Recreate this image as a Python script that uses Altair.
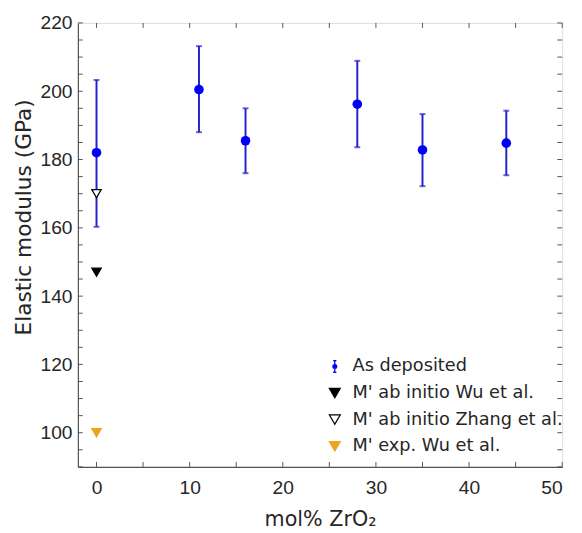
import altair as alt
import pandas as pd

# As-deposited measurements
x_dep = [0, 11, 16, 28, 35, 44]
y_dep = [182.0, 200.5, 185.5, 196.2, 182.8, 184.8]
y_lo = [160.3, 188.0, 176.0, 183.6, 172.2, 175.4]
y_hi = [203.3, 213.2, 195.0, 208.9, 193.3, 194.3]

# Reference values (M' phase)
ref_series = ["M' ab initio Wu et al.", "M' ab initio Zhang et al.", "M' exp. Wu et al."]
ref_x = [0, 0, 0]
ref_y = [147.0, 170.0, 100.0]

legend_order = ["As deposited"] + ref_series
x_ticks = list(range(0, 51, 5))
y_ticks = list(range(90, 221, 5))

BLUE = "#0000f5"
BAR_BLUE = "#2222cc"
ORANGE = "#EDA31E"
AXIS = "#555555"
TEXT = "#262626"
FONT = "Liberation Sans"
TFONT = "DejaVu Sans"
W, H, TL = 492, 451, 5

dep = pd.DataFrame({"x": x_dep, "y": y_dep, "lo": y_lo, "hi": y_hi})
ref = pd.DataFrame({"x": ref_x, "y": ref_y, "series": ref_series})
xt = pd.DataFrame({"t": x_ticks})
yt = pd.DataFrame({"t": y_ticks})

xs = alt.Scale(domain=[-2, 50], nice=False, zero=False)
ys = alt.Scale(domain=[90, 220], nice=False, zero=False)

common_axis = dict(
    grid=False, ticks=False, domainColor=AXIS, domainWidth=1.2,
    labelFont=FONT, labelFontSize=19.5, labelColor=TEXT,
    titleFont=TFONT, titleColor=TEXT, titleFontWeight="normal",
)

x_bottom = alt.Axis(orient="bottom", values=x_ticks, title="mol% ZrO₂",
                    labelExpr="datum.value % 10 == 0 ? datum.label : ''",
                    labelPadding=12, titlePadding=12, titleFontSize=21, **common_axis)
y_left = alt.Axis(orient="left", values=y_ticks, title="Elastic modulus (GPa)",
                  labelExpr="datum.value % 20 == 0 ? datum.label : ''",
                  labelPadding=6, titlePadding=5, titleFontSize=22, titleY=197,
                  **common_axis)

bars = alt.Chart(dep).mark_rule(color=BAR_BLUE, strokeWidth=2).encode(
    x=alt.X("x:Q", scale=xs, axis=x_bottom),
    y=alt.Y("lo:Q", scale=ys, axis=y_left),
    y2="hi:Q",
)
cap_lo = alt.Chart(dep).mark_tick(color=BAR_BLUE, orient="horizontal", size=6, thickness=2).encode(
    x=alt.X("x:Q", scale=xs, axis=x_bottom),
    y=alt.Y("lo:Q", scale=ys, axis=y_left),
)
cap_hi = alt.Chart(dep).mark_tick(color=BAR_BLUE, orient="horizontal", size=6, thickness=2).encode(
    x=alt.X("x:Q", scale=xs, axis=x_bottom),
    y=alt.Y("hi:Q", scale=ys, axis=y_left),
)
dots = alt.Chart(dep).mark_point(filled=True, shape="circle", size=95, color=BLUE, opacity=1).encode(
    x=alt.X("x:Q", scale=xs, axis=x_bottom),
    y=alt.Y("y:Q", scale=ys, axis=y_left),
)

# inward tick marks on all four sides
tick_style = dict(color=AXIS, strokeWidth=1)
yt_left = alt.Chart(yt).mark_rule(**tick_style).encode(
    y=alt.Y("t:Q", scale=ys, axis=y_left), x=alt.value(0), x2=alt.value(TL))
yt_right = alt.Chart(yt).mark_rule(**tick_style).encode(
    y=alt.Y("t:Q", scale=ys, axis=y_left), x=alt.value(W - TL), x2=alt.value(W))
xt_bottom = alt.Chart(xt).mark_rule(**tick_style).encode(
    x=alt.X("t:Q", scale=xs, axis=x_bottom), y=alt.value(H - TL), y2=alt.value(H))
xt_top = alt.Chart(xt).mark_rule(**tick_style).encode(
    x=alt.X("t:Q", scale=xs, axis=x_bottom), y=alt.value(0), y2=alt.value(TL))

errpath = ("M0,-1.1V1.1M-0.3,-1.1H0.3M-0.3,1.1H0.3"
           "M-0.35,0A0.35,0.35 0 1,0 0.35,0A0.35,0.35 0 1,0 -0.35,0Z")
legend = alt.Legend(title=None, orient="none", legendX=252, legendY=340,
                    labelFont=TFONT, labelFontSize=18, labelColor=TEXT, labelLimit=400,
                    symbolSize=120, symbolStrokeWidth=1.3, rowPadding=9,
                    labelOffset=9, padding=0)

tri = alt.Chart(ref).mark_point(size=90, strokeWidth=1.3, opacity=1).encode(
    x=alt.X("x:Q", scale=xs, axis=x_bottom),
    y=alt.Y("y:Q", scale=ys, axis=y_left),
    shape=alt.Shape("series:N", scale=alt.Scale(domain=legend_order,
                    range=[errpath, "triangle-down", "triangle-down", "triangle-down"]),
                    legend=legend),
    fill=alt.Fill("series:N", scale=alt.Scale(domain=legend_order,
                  range=[BLUE, "#000000", "#ffffff", ORANGE]), legend=legend),
    stroke=alt.Stroke("series:N", scale=alt.Scale(domain=legend_order,
                      range=[BLUE, "#000000", "#000000", ORANGE]), legend=legend),
)

chart = alt.layer(bars, yt_left, yt_right, xt_bottom, xt_top, cap_lo, cap_hi, dots, tri).properties(
    width=W, height=H,
    autosize=alt.AutoSizeParams(type="none"),
    padding={"left": 71, "top": 11, "right": 12, "bottom": 63},
).configure_view(stroke=AXIS, strokeWidth=1.2).configure(background="white")

chart.save("out.html", embed_options={"renderer": "svg", "actions": False})
